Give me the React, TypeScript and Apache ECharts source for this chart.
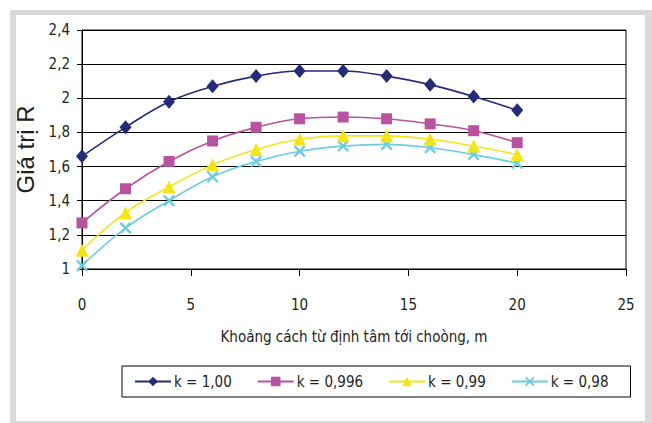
import React, { useEffect, useRef } from "react";
import * as echarts from "echarts";

const xValues = [0, 2, 4, 6, 8, 10, 12, 14, 16, 18, 20];
const seriesNames = ["k = 1,00", "k = 0,996", "k = 0,99", "k = 0,98"];
const k100 = [1.66, 1.83, 1.98, 2.07, 2.13, 2.16, 2.16, 2.13, 2.08, 2.01, 1.93];
const k0996 = [1.27, 1.47, 1.63, 1.75, 1.83, 1.88, 1.89, 1.88, 1.85, 1.81, 1.74];
const k099 = [1.11, 1.33, 1.48, 1.61, 1.70, 1.76, 1.78, 1.78, 1.76, 1.72, 1.67];
const k098 = [1.02, 1.24, 1.40, 1.54, 1.63, 1.69, 1.72, 1.73, 1.71, 1.67, 1.62];
const seriesValues = [k100, k0996, k099, k098];
const colors = ["#262b78", "#b9529f", "#f3e516", "#6ccde0"];
const symbols = [
  "diamond",
  "rect",
  "triangle",
  "path://M0,1.4L1.4,0L10,8.6L8.6,10ZM8.6,0L10,1.4L1.4,10L0,8.6Z",
];
const symbolSizes = [[12, 14], 11, 13, 12];

const FONT = "'DejaVu Sans Condensed', 'Liberation Sans Narrow', sans-serif";

export default function App() {
  const ref = useRef<HTMLDivElement>(null);
  useEffect(() => {
    if (!ref.current) return;
    const chart = echarts.init(ref.current, undefined, { renderer: "svg" });
    const fmt = (v: number) => String(Math.round(v * 10) / 10).replace(".", ",");
    chart.setOption({
      animation: false,
      backgroundColor: "#ffffff",
      graphic: [
        {
          type: "rect",
          silent: true,
          z: -10,
          shape: { x: 10, y: 10, width: 650, height: 420 },
          style: { fill: "#d9d9d9" },
        },
        {
          type: "rect",
          silent: true,
          z: -9,
          shape: { x: 16, y: 15, width: 629, height: 406 },
          style: { fill: "#ffffff" },
        },
      ],
      grid: { left: 82, right: 26, top: 30, bottom: 154, show: true, borderColor: "#000", borderWidth: 1, backgroundColor: "transparent" },
      xAxis: {
        type: "value",
        min: 0,
        max: 25,
        interval: 5,
        name: "Khoảng cách từ định tâm tới choòng, m",
        nameLocation: "middle",
        nameGap: 60,
        nameTextStyle: { fontFamily: FONT, fontSize: 15, color: "#231f20" },
        axisLine: { show: true, onZero: false, lineStyle: { color: "#000", width: 1 } },
        axisTick: { show: true, length: 7, lineStyle: { color: "#000" } },
        axisLabel: { margin: 28, fontFamily: FONT, fontSize: 15, color: "#231f20" },
        splitLine: { show: false },
      },
      yAxis: {
        type: "value",
        min: 1,
        max: 2.4,
        interval: 0.2,
        name: "Giá trị R",
        nameLocation: "middle",
        nameGap: 33,
        nameTextStyle: { fontFamily: "'Liberation Sans', sans-serif", fontSize: 24, color: "#231f20" },
        axisLine: { show: true, lineStyle: { color: "#000", width: 1 } },
        axisTick: { show: true, length: 5, lineStyle: { color: "#000" } },
        axisLabel: { margin: 12, fontFamily: FONT, fontSize: 15, color: "#231f20", formatter: fmt },
        splitLine: { show: true, lineStyle: { color: "#000", width: 1 } },
      },
      legend: {
        left: 122,
        top: 366,
        padding: [8, 22, 8, 12],
        borderColor: "#000",
        borderWidth: 1,
        itemWidth: 36,
        itemHeight: 12,
        itemGap: 25,
        textStyle: { fontFamily: FONT, fontSize: 15, color: "#231f20", padding: [0, 0, 0, -2] },
        data: seriesNames,
      },
      series: seriesNames.map((name, i) => ({
        name,
        type: "line",
        smooth: 0.4,
        data: xValues.map((x, j) => [x, seriesValues[i][j]]),
        symbol: symbols[i],
        symbolSize: symbolSizes[i],
        showSymbol: true,
        lineStyle: { color: colors[i], width: 1.6 },
        itemStyle: { color: colors[i], borderWidth: 0 },
        z: 10 - i,
      })),
    });
    return () => chart.dispose();
  }, []);
  return (
    <div
      ref={ref}
      style={{ position: "absolute", left: 0, top: 0, width: 652, height: 423 }}
    />
  );
}
